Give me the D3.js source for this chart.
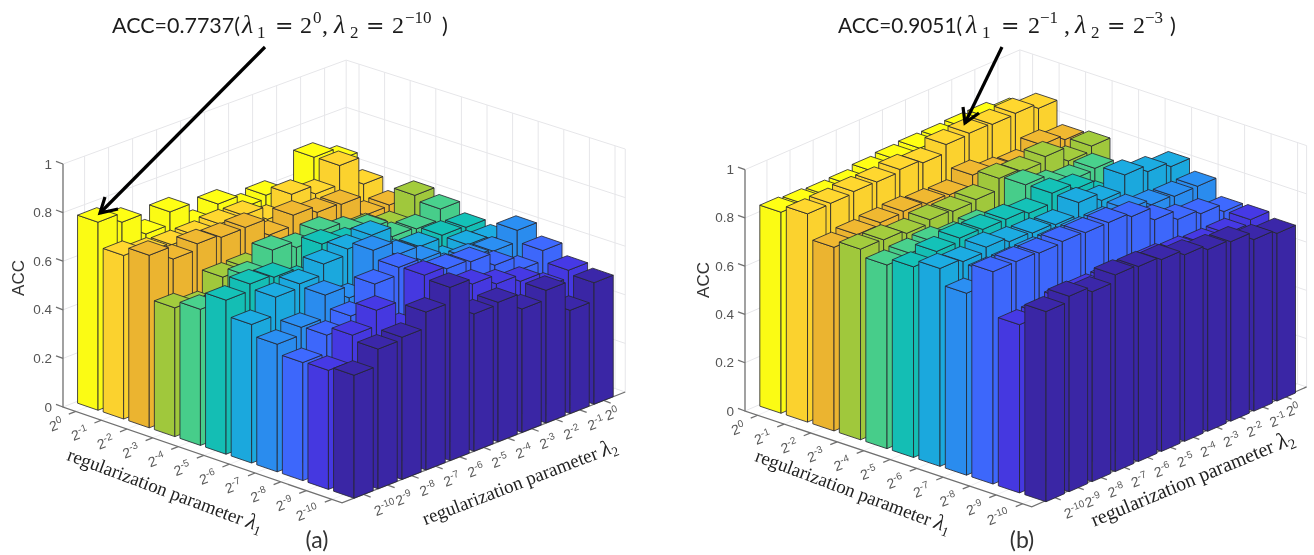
<!DOCTYPE html>
<html><head><meta charset="utf-8">
<script src="https://cdn.jsdelivr.net/npm/d3@7/dist/d3.min.js"></script>
<style>html,body{margin:0;padding:0;background:#fff}svg{display:block}</style>
</head><body><svg id="c" width="1314" height="555"></svg>
<script>
const lambdaExponents = ["0","-1","-2","-3","-4","-5","-6","-7","-8","-9","-10"];
const lambda2Exponents = ["-10","-9","-8","-7","-6","-5","-4","-3","-2","-1","0"];
const zTicks = [0,0.2,0.4,0.6,0.8,1];
const rowColors = ["#FBFB14","#FBD22E","#EBB430","#A0C83C","#47CD8A","#14BEB4","#1BA8DD","#2A8CEE","#3D67FB","#4538E0","#3A26A5"];
// rows: lambda1 = 2^0 ... 2^-10; columns: lambda2 = 2^-10 ... 2^0
const accA = [
 [.7737,.735,.648,.70,.61,.655,.60,.614,.505,.693,.642],
 [.673,.648,.64,.64,.648,.645,.59,.654,.617,.695,.58],
 [.71,.656,.68,.668,.67,.60,.643,.616,.61,.527,.53],
 [.53,.50,.579,.58,.55,.55,.55,.55,.55,.52,.606],
 [.56,.55,.62,.688,.66,.688,.65,.62,.55,.543,.586],
 [.634,.662,.651,.60,.71,.68,.60,.52,.50,.553,.547],
 [.57,.644,.66,.703,.726,.744,.63,.62,.525,.55,.535],
 [.525,.556,.65,.60,.757,.70,.64,.57,.57,.56,.607],
 [.486,.56,.60,.693,.723,.64,.64,.63,.577,.518,.56],
 [.49,.596,.66,.55,.727,.55,.613,.575,.547,.484,.515],
 [.506,.575,.585,.65,.713,.565,.574,.508,.546,.425,.50]
];
const accB = [
 [.833,.826,.82,.822,.835,.843,.848,.847,.85,.85,.826],
 [.863,.865,.872,.87,.88,.866,.90,.9051,.90,.904,.883],
 [.761,.772,.78,.785,.775,.77,.81,.78,.77,.81,.79],
 [.79,.787,.772,.787,.78,.787,.833,.82,.84,.78,.80],
 [.761,.768,.775,.753,.76,.72,.843,.80,.78,.786,.70],
 [.79,.812,.826,.82,.82,.804,.845,.82,.75,.72,.72],
 [.82,.807,.825,.806,.80,.793,.843,.81,.874,.846,.825],
 [.754,.80,.80,.80,.80,.80,.80,.81,.787,.78,.78],
 [.88,.88,.874,.88,.875,.875,.858,.803,.763,.745,.712],
 [.697,.70,.72,.72,.72,.72,.72,.71,.70,.70,.715],
 [.788,.81,.787,.815,.808,.795,.773,.753,.744,.711,.695]
];

const svg = d3.select("#c");
const root = svg.append("g").style("filter","blur(0.45px)");
const sans = "'Liberation Sans',Arial,sans-serif", serif = "'Liberation Serif','Times New Roman',serif", cal = "Lato,'Open Sans',sans-serif";

function panel(acc, g) {
  const iX = d3.scaleLinear([g.imin,g.imax],[0,g.ai*(g.imax-g.imin)]);
  const jX = d3.scaleLinear([g.jmin,g.jmax],[0,g.aj*(g.jmax-g.jmin)]);
  const iY = d3.scaleLinear([g.imin,g.imax],[0,g.bi*(g.imax-g.imin)]);
  const jY = d3.scaleLinear([g.jmin,g.jmax],[0,g.bj*(g.jmax-g.jmin)]);
  const zS = d3.scaleLinear([0,1],[0,g.k]);
  const P = (i,j,z=0)=>[g.x0+iX(i)+jX(j), g.y0+iY(i)+jY(j)-zS(z)];
  // walls sag slightly toward the back corner at the top
  const W = (i,j,z=0)=>{const p=P(i,j,z);
    p[1]+=z*g.sag*((j-g.jmin)/(g.jmax-g.jmin))*(1-(i-g.imin)/(g.imax-g.imin));return p;};
  const line = d3.line();
  const G = root.append("g");
  const gridC="#e6e6e9", floorC="#f0f0f2";
  const seg=(a,b,c)=>G.append("path").attr("d",line([a,b])).attr("stroke",c).attr("fill","none");
  d3.range(11).forEach(t=>{
    seg(W(g.imin,t),W(g.imax,t),floorC);
    seg(W(t,g.jmin),W(t,g.jmax),floorC);
  });
  zTicks.forEach(z=>{
    G.append("path").attr("d",line([W(g.imin,g.jmin,z),W(g.imin,g.jmax,z),W(g.imax,g.jmax,z)]))
      .attr("fill","none").attr("stroke",gridC).attr("stroke-width",1);
  });
  d3.range(11).forEach(t=>{
    seg(W(g.imin,t),W(g.imin,t,1),gridC);
    seg(W(t,g.jmax),W(t,g.jmax,1),gridC);
  });
  seg(W(g.imin,g.jmax),W(g.imin,g.jmax,1),gridC);
  seg(W(g.imax,g.jmax),W(g.imax,g.jmax,1),gridC);
  // axes
  const axC="#707070";
  const axis = G.append("g").attr("fill","none").attr("stroke",axC).attr("stroke-width",1.3);
  axis.append("path").attr("d",line([P(g.imin,g.jmin,1),P(g.imin,g.jmin),P(g.imax,g.jmin),P(g.imax,g.jmax)]));
  zTicks.forEach(z=>{
    const p=P(g.imin,g.jmin,z);
    axis.append("path").attr("d",line([p,[p[0]-7,p[1]-2.6]]));
    G.append("text").attr("x",p[0]-11).attr("y",p[1]+4.5).attr("text-anchor","end").attr("font-family",sans).attr("font-size",13.5).attr("fill","#555").text(z);
  });
  function expLabel(x,y,ex){
    const t=G.append("text").attr("transform",`translate(${x},${y}) rotate(-20)`).attr("text-anchor","middle").attr("font-family",sans).attr("font-size",14).attr("fill","#5a5a5a");
    t.append("tspan").text("2");
    t.append("tspan").attr("dy",-5.5).attr("font-size",10).text(ex);
  }
  lambdaExponents.forEach((ex,i)=>{
    const p=P(i,g.jmin);
    axis.append("path").attr("d",line([p,[p[0]-7,p[1]+2.8]]));
    expLabel(p[0]-20-(ex==="-10"?3:0)+(ex==="0"?2:0),p[1]+18,ex);
  });
  lambda2Exponents.forEach((ex,j)=>{
    const p=P(g.imax,j);
    axis.append("path").attr("d",line([p,[p[0]+7,p[1]+2.6]]));
    expLabel(p[0]+(ex==="0"?10:ex==="-10"?23:18),p[1]+18,ex);
  });
  // bars, back to front
  const hw=0.4, edge="rgba(38,38,48,0.82)";
  const bars=G.append("g").attr("stroke",edge).attr("stroke-width",1).attr("stroke-linejoin","round");
  d3.range(11).forEach(i=>{
    d3.range(10,-1,-1).forEach(j=>{
      const z=acc[i][j], c=rowColors[i];
      const i0=i-hw,i1=i+hw,j0=j-hw,j1=j+hw;
      const faces=[
        [P(i0,j0),P(i1,j0),P(i1,j0,z),P(i0,j0,z)],
        [P(i1,j0),P(i1,j1),P(i1,j1,z),P(i1,j0,z)],
        [P(i0,j0,z),P(i1,j0,z),P(i1,j1,z),P(i0,j1,z)]
      ];
      faces.forEach((f,k)=>{
        const col = k===2 ? d3.color(c).brighter(0.06) : c;
        bars.append("path").attr("d",line(f)+"Z").attr("fill",col);
      });
    });
  });
  // labels
  G.append("text").attr("transform",`translate(${g.accX},${g.accY}) rotate(-90)`).attr("text-anchor","middle")
    .attr("font-family",sans).attr("font-size",17).attr("fill","#333").text("ACC");
  function axisTitle(p,rot,sub,size){
    const t=G.append("text").attr("transform",`translate(${p[0]},${p[1]}) rotate(${rot})`).attr("text-anchor","middle")
      .attr("font-family",serif).attr("font-size",size).attr("fill","#222");
    t.append("tspan").text("regularization parameter ");
    t.append("tspan").attr("font-style","italic").attr("font-size",size+3).text("λ");
    t.append("tspan").attr("font-size",size-5.5).attr("dy",4).text(sub);
  }
  axisTitle(g.t1,g.r1,"1",g.s1); axisTitle(g.t2,g.r2,"2",g.s2);
  G.append("text").attr("x",g.panelX).attr("y",548).attr("text-anchor","middle").attr("font-family",cal).attr("font-size",23).attr("fill","#333").text(g.panel);
  // annotation
  const A=G.append("g").attr("fill","#1c1c1c");
  const Y=33;
  const put=(x,txt,o={})=>{const t=A.append("text").attr("x",x).attr("y",Y+(o.dy||0)).attr("font-family",o.f||cal).attr("font-style",o.it?"italic":"normal").attr("font-size",o.s||22).text(txt);
    if(o.len)t.attr("textLength",o.len).attr("lengthAdjust","spacingAndGlyphs");};
  g.ann.forEach(a=>put(a[0],a[1],a[2]||{}));
  const ar=G.append("g").attr("fill","none").attr("stroke","#000").attr("stroke-width",3.2);
  ar.append("path").attr("d",line([g.arrow[0],g.arrow[1]]));
  ar.append("path").attr("d",line([g.arrow[2],g.arrow[1],g.arrow[3]]));
}
const ser="'Liberation Serif',serif";
const N={f:ser,s:24}, EQ={f:"'DejaVu Sans',sans-serif",s:22}, MI={f:ser,s:26,it:true}, SUB={f:ser,s:17,dy:5}, SUP={f:ser,s:17,dy:-10};
panel(accA,{x0:63,y0:407,ai:25.6,aj:24,bi:8.8,bj:-9.4,k:243,imin:-.5,imax:10.4,jmin:-.9,jmax:10.9,sag:7,
  accX:24,accY:278,t1:[163,496],r1:20.5,t2:[522,488],r2:-21,s1:19,s2:19,panelX:317,panel:"(a)",
  arrow:[[265,47],[100,213],[105,197],[118,209]],
  ann:[[112,"ACC=0.7737(",{len:128}],[242,"λ",MI],[257,"1",SUB],[275,"=",EQ],[300,"2",N],[313,"0",SUP],[322,",",N],[334,"λ",MI],[350,"2",SUB],[366,"=",EQ],[392,"2",N],[405,"−10",SUP],[442,")",{}]]});
panel(accB,{x0:745,y0:411,ai:26.5,aj:23.1,bi:8.85,bj:-10.07,k:241.3,imin:-.48,imax:10.34,jmin:-.95,jmax:10.95,sag:0,
  accX:709,accY:280,t1:[851,497],r1:20.5,t2:[1195,485],r2:-22.5,s1:19,s2:20,panelX:1022,panel:"(b)",
  arrow:[[1002,47],[965,123],[963,107],[979,113]],
  ann:[[838,"ACC=0.9051(",{len:124}],[966,"λ",MI],[982,"1",SUB],[1001,"=",EQ],[1028,"2",N],[1040,"−1",SUP],[1064,",",N],[1075,"λ",MI],[1091,"2",SUB],[1107,"=",EQ],[1133,"2",N],[1145,"−3",SUP],[1170,")",{}]]});
</script></body></html>
